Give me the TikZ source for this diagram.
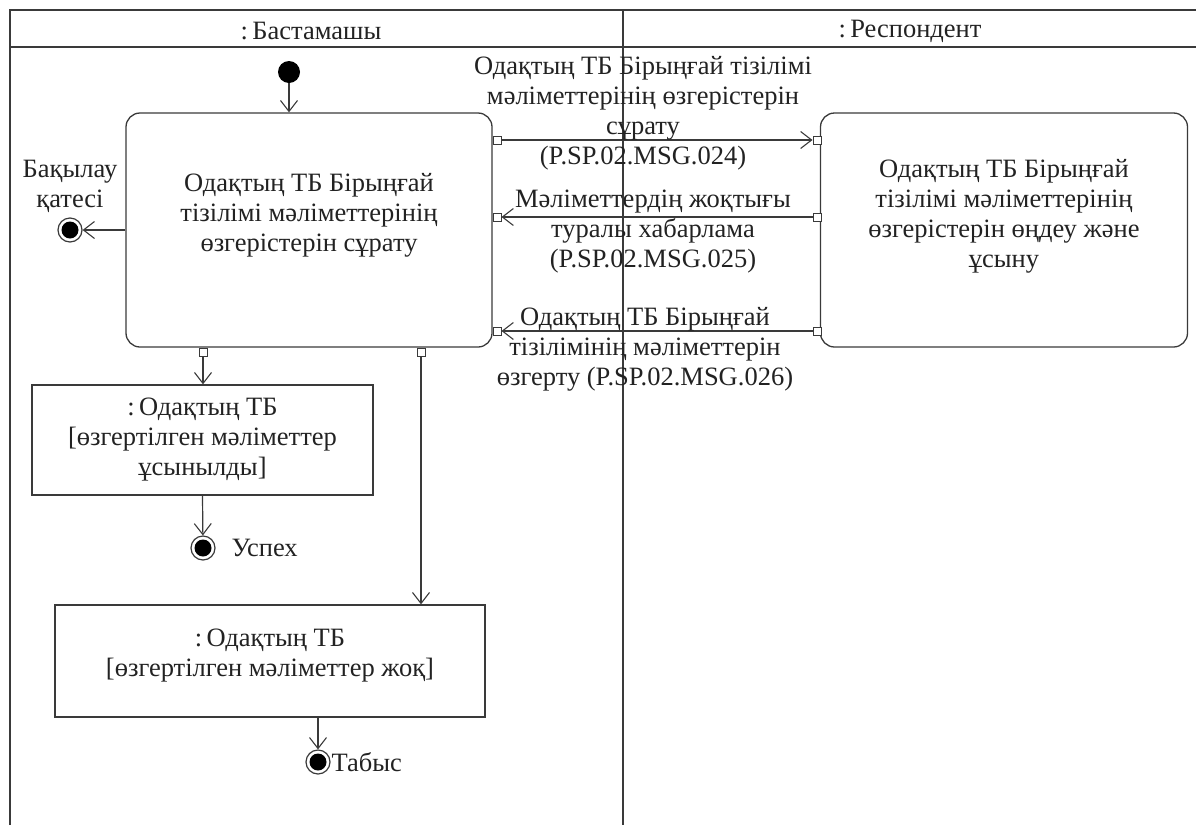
\documentclass[tikz,border=0pt]{standalone}
\usepackage{fontspec}
\setmainfont{Liberation Serif}
\usetikzlibrary{arrows.meta}
\definecolor{ln}{HTML}{3A3A3A}
\definecolor{tx}{HTML}{222222}
\begin{document}
\begin{tikzpicture}[x=1pt,y=-1pt,
  every node/.style={text=tx},
  frame/.style={draw=ln, line width=1.3pt},
  flow/.style={draw=ln, line width=1.2pt, -{Straight Barb[length=11pt,width=17pt,line width=1.1pt]}},
  act/.style={draw=ln, line width=1.3pt, rounded corners=14pt, inner sep=0pt},
  obj/.style={draw=ln, line width=1.3pt, align=center, inner sep=0pt, font=\fontsize{26.5}{30}\selectfont},
  pin/.style={draw=ln, fill=white, line width=1pt, minimum size=8pt, inner sep=0pt},
  lbl/.style={align=center, font=\fontsize{26.5}{30}\selectfont},
  initial/.style={circle, fill=black, minimum size=22pt, inner sep=0pt},
  final/.style={circle, draw=ln, line width=1.2pt, fill=white, minimum size=24pt, inner sep=0pt,
     path picture={\fill[black] (path picture bounding box.center) circle (8.5pt);}}
]
\useasboundingbox (0,0) rectangle (1196,825);
% swimlane frame
\draw[frame] (10,825) -- (10,10) -- (1196,10);
\draw[frame] (10,47) -- (1196,47);
\draw[frame] (623,10) -- (623,825);
\node[lbl] (h1) at (311,31) {:\,Бастамашы};
\node[lbl] (h2) at (910,31) {:\,Респондент};

% activities
\node[act, minimum width=366pt, minimum height=234pt] (A) at (309,230) {};
\node[lbl] (At) at (309,215) {Одақтың ТБ Бірыңғай\\тізілімі мәліметтерінің\\өзгерістерін сұрату};
\node[act, minimum width=367pt, minimum height=234pt] (B) at (1004,230) {};
\node[lbl] (Bt) at (1004,216) {Одақтың ТБ Бірыңғай\\тізілімі мәліметтерінің\\өзгерістерін өңдеу және\\ұсыну};

% initial
\node[initial] (init) at (289,72) {};
\draw[flow] (init) -- (init |- A.north);

% control error
\node[final] (err) at (70,230) {};
\node[lbl] (errl) at (70,186) {Бақылау\\қатесі};
\draw[flow] (A.west) -- (err);

% pins
\node[pin] (pA1) at (497,140) {};
\node[pin] (pA2) at (497,217) {};
\node[pin] (pA3) at (497,331) {};
\node[pin] (pB1) at (817,140) {};
\node[pin] (pB2) at (817,217) {};
\node[pin] (pB3) at (817,331) {};
\node[pin] (pC) at (203,352) {};
\node[pin] (pD) at (421,352) {};

% messages
\draw[flow] (pA1) -- (pB1);
\draw[flow] (pB2) -- (pA2);
\draw[flow] (pB3) -- (pA3);
\node[lbl] (m1) at (643,113) {Одақтың ТБ Бірыңғай тізілімі\\мәліметтерінің өзгерістерін\\сұрату\\(P.SP.02.MSG.024)};
\node[lbl] (m2) at (653,232) {Мәліметтердің жоқтығы\\туралы хабарлама\\(P.SP.02.MSG.025)};
\node[lbl] (m3) at (645,349) {Одақтың ТБ Бірыңғай\\тізілімінің мәліметтерін\\өзгерту (P.SP.02.MSG.026)};

% objects
\node[obj, minimum width=341pt, minimum height=110pt] (C) at (202.5,440) {:\,Одақтың ТБ\\{}[өзгертілген мәліметтер\\ұсынылды]};
\draw[flow] (pC) -- (pC |- C.north);
\node[final] (succ) at (203,548) {};
\node[lbl, anchor=west] (succl) at (228,548) {Успех};
\draw[flow] (C.south) -- (succ);

\node[obj, minimum width=430pt, minimum height=112pt] (D) at (270,661) {};
\node[lbl] (Dt) at (270,656) {:\,Одақтың ТБ\\{}[өзгертілген мәліметтер жоқ]};
\draw[flow] (pD) -- (pD |- D.north);
\node[final] (tab) at (318,762) {};
\node[lbl, anchor=west] (tabl) at (328,762) {Табыс};
\draw[flow] (tab |- D.south) -- (tab);
\end{tikzpicture}
\end{document}
